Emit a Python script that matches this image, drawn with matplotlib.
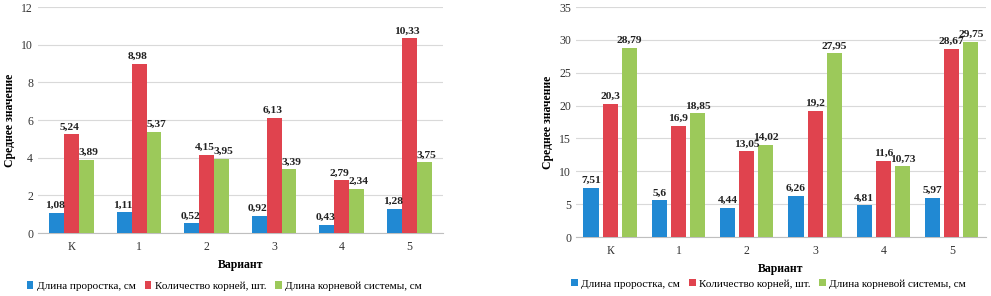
import matplotlib
matplotlib.use("Agg")
from matplotlib import pyplot as plt
import numpy as np

# categories and series
variants = ["К", "1", "2", "3", "4", "5"]
series_names = ["Длина проростка, см", "Количество корней, шт.", "Длина корневой системы, см"]

# left chart
left_sprout = [1.08, 1.11, 0.52, 0.92, 0.43, 1.28]
left_roots = [5.24, 8.98, 4.15, 6.13, 2.79, 10.33]
left_rootlen = [3.89, 5.37, 3.95, 3.39, 2.34, 3.75]

# right chart
right_sprout = [7.51, 5.6, 4.44, 6.26, 4.81, 5.97]
right_roots = [20.3, 16.9, 13.05, 19.2, 11.6, 28.67]
right_rootlen = [28.79, 18.85, 14.02, 27.95, 10.73, 29.75]

colors = ["#2189D3", "#E0434E", "#9CC95A"]

plt.rcParams['font.family'] = ['Liberation Serif', 'DejaVu Serif']

fig = plt.figure(figsize=(9.91, 2.96), dpi=100)


def draw(ax, data, ymax, ystep, width, gap, label_shift=(0, 0, 0)):
    x = np.arange(len(variants))
    offsets = [-(width + gap), 0, width + gap]
    for i, vals in enumerate(data):
        b = ax.bar(x + offsets[i], vals, width, color=colors[i], label=series_names[i], zorder=3)
        for rect, v in zip(b, vals):
            ax.annotate(f"{v:g}".replace(".", ","),
                        (rect.get_x() + rect.get_width() / 2, v),
                        xytext=(label_shift[i], 2), textcoords="offset points",
                        ha="center", va="bottom", fontsize=8.2, fontweight="bold",
                        color="#222222", zorder=4)
    ax.set_xlim(-0.5, len(variants) - 0.5)
    ax.set_ylim(0, ymax)
    ax.set_yticks(np.arange(0, ymax + 0.01, ystep))
    ax.set_xticks(x)
    ax.set_xticklabels(variants)
    ax.yaxis.grid(True, color="#d9d9d9", linewidth=0.8, zorder=0)
    for s in ["top", "right", "left"]:
        ax.spines[s].set_visible(False)
    ax.spines["bottom"].set_color("#bfbfbf")
    ax.tick_params(axis="both", length=0, labelsize=8.5, colors="#333333")
    ax.tick_params(axis="x", pad=6)
    ax.set_xlabel("Вариант", fontsize=8.5, fontweight="bold", labelpad=4)
    ax.set_ylabel("Среднее значение", fontsize=8.5, fontweight="bold", labelpad=4)
    return ax


ax1 = fig.add_axes([0.0383, 0.2128, 0.4087, 0.7635])
draw(ax1, [left_sprout, left_roots, left_rootlen], 12, 2, 0.22, 0.0, (-1, -1.5, 1.5))
ax1.legend(loc="upper center", bbox_to_anchor=(0.46, -0.17), ncol=3, frameon=False,
           fontsize=8, handlelength=0.6, handleheight=0.6, handletextpad=0.3,
           columnspacing=0.8)

ax2 = fig.add_axes([0.5812, 0.1993, 0.4137, 0.777])
draw(ax2, [right_sprout, right_roots, right_rootlen], 35, 5, 0.22, 0.06)
ax2.legend(loc="upper center", bbox_to_anchor=(0.47, -0.14), ncol=3, frameon=False,
           fontsize=8, handlelength=0.6, handleheight=0.6, handletextpad=0.3,
           columnspacing=0.8)

fig.savefig("out.png", dpi=100)
